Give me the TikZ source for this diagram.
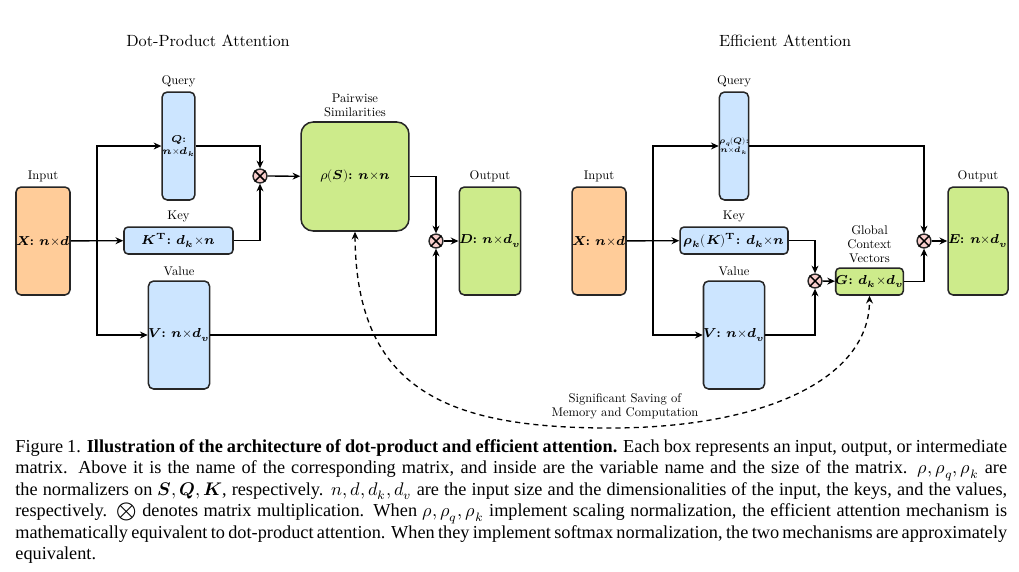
\documentclass[tikz,border=0pt]{standalone}
\usepackage{amsmath}
\usepackage{fontspec}
\usepackage{unicode-math}
\setmainfont{lmroman10-regular.otf}[BoldFont=lmroman10-bold.otf, ItalicFont=lmroman10-italic.otf, BoldItalicFont=lmroman10-bolditalic.otf]
\setmathfont{Latin Modern Math}
\newfontfamily\capfont{Liberation Serif}
\usetikzlibrary{arrows.meta,calc,positioning}
\definecolor{inorange}{HTML}{FFCC99}
\definecolor{matblue}{HTML}{CCE5FF}
\definecolor{outgreen}{HTML}{CDEB8B}
\definecolor{mulpink}{HTML}{F8CECC}

\tikzset{
	mat/.style={draw=black!85, line width=0.75pt, rounded corners=2.5pt, inner sep=0pt, align=center, font=\fontsize{6.4}{7}\selectfont},
	lab/.style={align=center, inner sep=2pt, font=\fontsize{6.2}{6.9}\selectfont},
	ttl/.style={font=\fontsize{8}{9}\selectfont},
	mul/.style={circle, draw=black!85, fill=mulpink, line width=0.7pt, minimum size=0.24cm, inner sep=0pt},
	arr/.style={line width=0.65pt, -{Stealth[length=3.8pt,width=3.4pt]}},
}

\begin{document}
\begin{tikzpicture}[x=0.0173cm, y=-0.0173cm]
	\useasboundingbox (0,0) rectangle (1019,571);
%
	\node[ttl] (dpt) at (208,41) {Dot-Product Attention};
	\node[mat, fill=inorange, minimum width=0.934cm, minimum height=1.868cm] (X1) at (43,241) {$\symbfit{X}$\textbf{:} $\symbfit{n}{\times}\symbfit{d}$};
	\node[mat, fill=matblue, minimum width=0.467cm, minimum height=1.868cm, font=\fontsize{4.9}{5.7}\selectfont] (Q1) at (178.5,146) {$\symbfit{Q}$\textbf{:}\\$\symbfit{n}{\times}\symbfit{d}_{\symbfit{k}}$};
	\node[mat, fill=matblue, minimum width=1.886cm, minimum height=0.467cm, rounded corners=2pt] (K1) at (178.5,240.5) {$\symbfit{K}^{\symbf{T}}$\textbf{:} $\symbfit{d}_{\symbfit{k}}{\times}\symbfit{n}$};
	\node[mat, fill=matblue, minimum width=0.934cm, minimum height=1.868cm] (V1) at (179,335) {$\symbfit{V}$\textbf{:} $\symbfit{n}{\times}\symbfit{d}_{\symbfit{v}}$};
	\node[mul] (M1) at (260,176) {};
	\node[mat, fill=outgreen, minimum width=1.868cm, minimum height=1.886cm, rounded corners=6pt] (S1) at (355,176.5) {$\rho(\symbfit{S})$\textbf{:} $\symbfit{n}{\times}\symbfit{n}$};
	\node[mul] (M2) at (436,241) {};
	\node[mat, fill=outgreen, minimum width=0.934cm, minimum height=1.868cm] (D1) at (490,241) {$\symbfit{D}$\textbf{:} $\symbfit{n}{\times}\symbfit{d}_{\symbfit{v}}$};
	\coordinate (J1) at (97,241);
%
	\node[lab, above=0pt of X1] (X1n) {Input};
	\node[lab, above=0pt of Q1] (Q1n) {Query};
	\node[lab, above=0pt of K1] (K1n) {Key};
	\node[lab, above=0pt of V1] (V1n) {Value};
	\node[lab, above=0pt of S1] (S1n) {Pairwise\\Similarities};
	\node[lab, above=0pt of D1] (D1n) {Output};
%
	\draw[arr] (X1) -- (K1);
	\draw[arr] (J1) |- (Q1.west);
	\draw[arr] (J1) |- (V1.west);
	\draw[arr] (Q1.east) -| (M1.north);
	\draw[arr] (K1.east) -| (M1.south);
	\draw[arr] (M1) -- (S1);
	\draw[arr] (S1.east) -| (M2.north);
	\draw[arr] (V1.east) -| (M2.south);
	\draw[arr] (M2) -- (D1);
%
	\node[ttl] (eft) at (785,41) {Efficient Attention};
	\node[mat, fill=inorange, minimum width=0.934cm, minimum height=1.868cm] (X2) at (599,241) {$\symbfit{X}$\textbf{:} $\symbfit{n}{\times}\symbfit{d}$};
	\node[mat, fill=matblue, minimum width=0.484cm, minimum height=1.868cm, font=\fontsize{3.9}{4.6}\selectfont] (Q2) at (734,146) {$\symbfit{\rho}_{\symbfit{q}}(\symbfit{Q})$\textbf{:}\\$\symbfit{n}{\times}\symbfit{d}_{\symbfit{k}}$};
	\node[mat, fill=matblue, minimum width=1.868cm, minimum height=0.467cm, rounded corners=2pt] (K2) at (734,240.5) {$\symbfit{\rho}_{\symbfit{k}}(\symbfit{K})^{\symbf{T}}$\textbf{:} $\symbfit{d}_{\symbfit{k}}{\times}\symbfit{n}$};
	\node[mat, fill=matblue, minimum width=0.934cm, minimum height=1.868cm] (V2) at (734,335) {$\symbfit{V}$\textbf{:} $\symbfit{n}{\times}\symbfit{d}_{\symbfit{v}}$};
	\node[mul] (M3) at (815,281) {};
	\node[mat, fill=outgreen, minimum width=0.95cm, minimum height=0.467cm, rounded corners=2pt] (G2) at (869.5,281.5) {$\symbfit{G}$\textbf{:} $\symbfit{d}_{\symbfit{k}}{\times}\symbfit{d}_{\symbfit{v}}$};
	\node[mul] (M4) at (924,241) {};
	\node[mat, fill=outgreen, minimum width=0.934cm, minimum height=1.868cm] (E2) at (978,241) {$\symbfit{E}$\textbf{:} $\symbfit{n}{\times}\symbfit{d}_{\symbfit{v}}$};
	\coordinate (J2) at (653,241);
%
	\node[lab, above=0pt of X2] (X2n) {Input};
	\node[lab, above=0pt of Q2] (Q2n) {Query};
	\node[lab, above=0pt of K2] (K2n) {Key};
	\node[lab, above=0pt of V2] (V2n) {Value};
	\node[lab, above=0pt of G2] (G2n) {Global\\Context\\Vectors};
	\node[lab, above=0pt of E2] (E2n) {Output};
%
	\draw[arr] (X2) -- (K2);
	\draw[arr] (J2) |- (Q2.west);
	\draw[arr] (J2) |- (V2.west);
	\draw[arr] (Q2.east) -| (M4.north);
	\draw[arr] (K2.east) -| (M3.north);
	\draw[arr] (V2.east) -| (M3.south);
	\draw[arr] (M3) -- (G2);
	\draw[arr] (G2.east) -| (M4.south);
	\draw[arr] (M4) -- (E2);
%
	\foreach \m in {M1,M2,M3,M4}
		\draw[line width=0.7pt] (\m.north west) -- (\m.south east) (\m.north east) -- (\m.south west);
%
	\coordinate (low) at (610,428);
	\draw[line width=0.65pt, dash pattern=on 2.5pt off 2pt, {Stealth[length=3.8pt,width=3.4pt]}-{Stealth[length=3.8pt,width=3.4pt]}]
		(S1.south) .. controls +(1,160) and +(-160,0) .. (low) .. controls +(150,0) and +(0,85) .. (G2.south);
	\node[lab] (save) at (625,406) {Significant Saving of\\Memory and Computation};
%
	\node[anchor=north west, inner sep=0pt, text width=17.16cm, align=justify, font=\capfont\fontsize{9}{10.56}\selectfont] (cap) at (15,439)
		{\hyphenpenalty=10000 Figure 1. \textbf{Illustration of the architecture of dot-product and efficient attention.} Each box represents an input, output, or intermediate\linebreak
		matrix.  Above it is the name of the corresponding matrix, and inside are the variable name and the size of the matrix.  $\rho, \rho_q, \rho_k$ are\linebreak
		the normalizers on $\symbfit{S}, \symbfit{Q}, \symbfit{K}$, respectively. $n, d, d_k, d_v$ are the input size and the dimensionalities of the input, the keys, and the values,\linebreak
		respectively. $\bigotimes$ denotes matrix multiplication. When $\rho, \rho_q, \rho_k$ implement scaling normalization, the efficient attention mechanism is\linebreak
		mathematically equivalent to dot-product attention. When they implement softmax normalization, the two mechanisms are approximately\linebreak
		equivalent.};
\end{tikzpicture}
\end{document}
